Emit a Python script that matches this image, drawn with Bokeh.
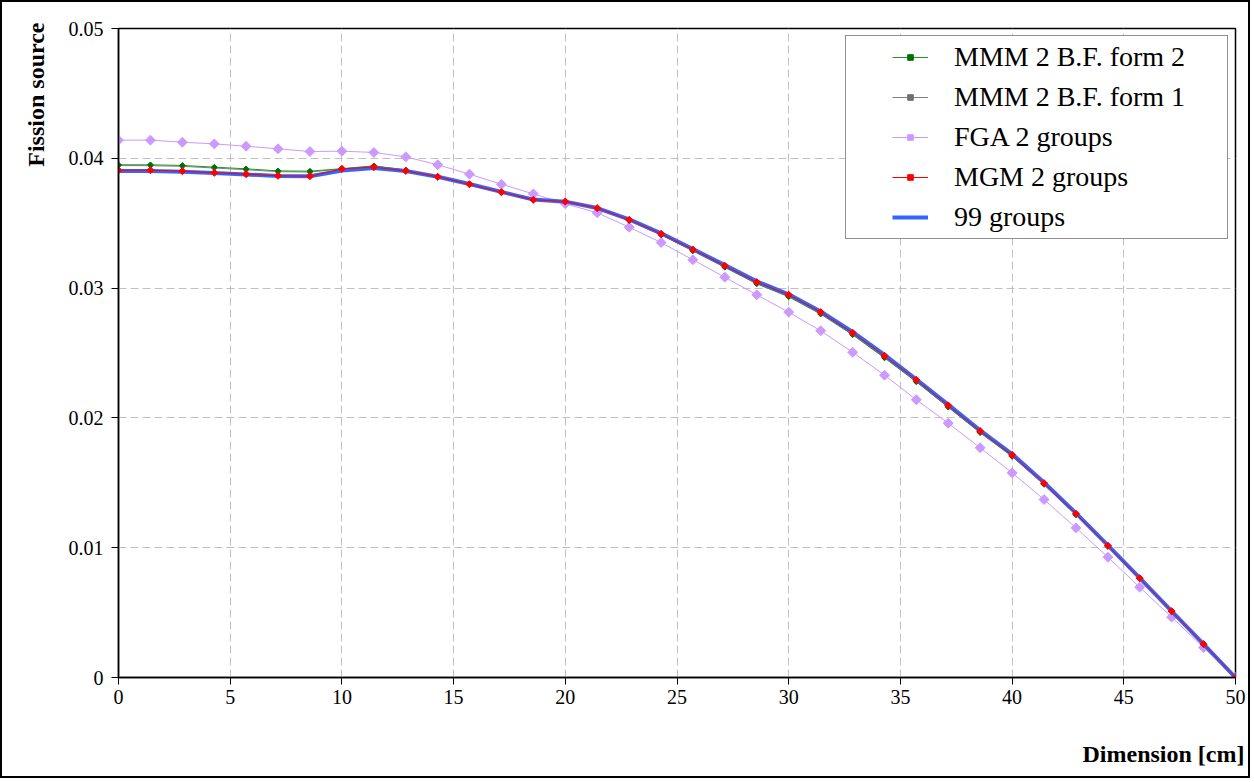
import math
from bokeh.plotting import figure
from bokeh.models import Legend, LegendItem, Title, FixedTicker
from bokeh.embed import file_html
from bokeh.resources import INLINE

# ---- data -------------------------------------------------------------
x_cm = [0, 1.43, 2.86, 4.29, 5.71, 7.14, 8.57, 10, 11.43, 12.86, 14.29, 15.71,
        17.14, 18.57, 20, 21.43, 22.86, 24.29, 25.71, 27.14, 28.57, 30, 31.43,
        32.86, 34.29, 35.71, 37.14, 38.57, 40, 41.43, 42.86, 44.29, 45.71,
        47.14, 48.57, 50]

mmm_form2 = [0.0395, 0.0395, 0.03945, 0.03932, 0.03919, 0.03903, 0.03901, 0.0392,
             0.03942, 0.0391, 0.0386, 0.03802, 0.0374, 0.0368, 0.03665, 0.03613,
             0.0352, 0.0341, 0.03287, 0.0316, 0.03033, 0.02933, 0.028, 0.0264,
             0.02462, 0.02278, 0.02082, 0.01886, 0.01703, 0.01487, 0.01253,
             0.0101, 0.00762, 0.00509, 0.00256, 0.0]

mmm_form1 = [0.03944, 0.03943, 0.03938, 0.03925, 0.03912, 0.03897, 0.03894, 0.03918,
             0.03938, 0.03908, 0.03858, 0.03801, 0.0374, 0.0368, 0.03665, 0.03614,
             0.03522, 0.03412, 0.0329, 0.03163, 0.03036, 0.02937, 0.02804, 0.02644,
             0.02466, 0.02282, 0.02086, 0.0189, 0.01707, 0.0149, 0.01256, 0.01012,
             0.00763, 0.0051, 0.00256, 0.0]

fga_2g = [0.0414, 0.0414, 0.04124, 0.04111, 0.04093, 0.04073, 0.04052, 0.04055,
          0.04045, 0.04011, 0.0395, 0.03878, 0.038, 0.03726, 0.0365, 0.0358,
          0.03469, 0.03351, 0.03218, 0.03084, 0.02948, 0.02815, 0.02671, 0.02506,
          0.02329, 0.0214, 0.01959, 0.0177, 0.01577, 0.01371, 0.01153, 0.00927,
          0.00696, 0.00465, 0.00231, 0.0]

mgm_2g = [0.03908, 0.03908, 0.03901, 0.03888, 0.03878, 0.03865, 0.03862, 0.03919,
          0.03932, 0.03903, 0.03857, 0.038, 0.03739, 0.0368, 0.03667, 0.03616,
          0.03526, 0.03418, 0.03297, 0.03172, 0.03046, 0.02948, 0.02815, 0.02656,
          0.02478, 0.02293, 0.02096, 0.01898, 0.01715, 0.01497, 0.01261, 0.01015,
          0.00765, 0.00511, 0.00257, 0.0]

ref_99g = [0.03903, 0.03902, 0.03897, 0.03886, 0.03876, 0.03863, 0.03862, 0.03905,
           0.03925, 0.03902, 0.03858, 0.03802, 0.03741, 0.03682, 0.03666, 0.03617,
           0.0353, 0.03422, 0.03301, 0.03177, 0.03052, 0.02952, 0.0282, 0.02662,
           0.02485, 0.02298, 0.02102, 0.01905, 0.01722, 0.01502, 0.01266, 0.01018,
           0.00767, 0.00512, 0.00257, 0.0]

series_names = ["MMM 2 B.F. form 2", "MMM 2 B.F. form 1", "FGA 2 groups",
                "MGM 2 groups", "99 groups"]

xtick_values = [0, 5, 10, 15, 20, 25, 30, 35, 40, 45, 50]
xtick_labels = ["0", "5", "10", "15", "20", "25", "30", "35", "40", "45", "50"]
ytick_values = [0, 0.01, 0.02, 0.03, 0.04, 0.05]
ytick_labels = ["0", "0.01", "0.02", "0.03", "0.04", "0.05"]

x_title = "Dimension [cm]"
y_title = "Fission source"

# ---- figure -----------------------------------------------------------
FONT = "Liberation Serif"

p = figure(width=1250, height=778, output_backend="svg", toolbar_location=None,
           x_range=(0, 50), y_range=(0, 0.05),
           min_border_left=116, min_border_right=17,
           min_border_top=26, min_border_bottom=103)
p.styles = {"border": "2px solid black"}
p.background_fill_color = "white"
p.border_fill_color = "white"
p.outline_line_color = "black"
p.outline_line_width = 1.5

# axes
p.xaxis.ticker = FixedTicker(ticks=xtick_values)
p.yaxis.ticker = FixedTicker(ticks=ytick_values)
p.xaxis.major_label_overrides = {v: l for v, l in zip(xtick_values, xtick_labels)}
p.yaxis.major_label_overrides = {v: l for v, l in zip(ytick_values, ytick_labels)}
for ax in (p.xaxis, p.yaxis):
    ax.axis_line_color = "black"
    ax.axis_line_width = 1.5
    ax.major_tick_line_color = "black"
    ax.major_tick_line_width = 1
    ax.major_tick_in = 0
    ax.major_tick_out = 7
    ax.minor_tick_line_color = None
    ax.major_label_text_font = FONT
    ax.major_label_text_font_size = "20px"
    ax.major_label_text_color = "black"
p.yaxis.major_label_standoff = 8
p.xaxis.major_label_standoff = 5

# grid
p.xgrid.ticker = FixedTicker(ticks=xtick_values)
p.ygrid.ticker = FixedTicker(ticks=ytick_values)
for g in (p.xgrid, p.ygrid):
    g.grid_line_color = "#c0c0c0"
    g.grid_line_dash = "8 4"
    g.grid_line_width = 1

# ---- series -----------------------------------------------------------
DIAMOND = math.pi / 4

fga_l = p.line(x_cm, fga_2g, line_color="#cc99ff", line_width=1)
fga_m = p.scatter(x_cm, fga_2g, marker="square", angle=DIAMOND, size=7,
                  fill_color="#cc99ff", line_color="#cc99ff")

g1_l = p.line(x_cm, mmm_form1, line_color="#808080", line_width=1)
g1_m = p.scatter(x_cm, mmm_form1, marker="square", angle=DIAMOND, size=4,
                 fill_color="#707070", line_color="#707070")

g2_l = p.line(x_cm, mmm_form2, line_color="#1e9a1e", line_width=1)
g2_m = p.scatter(x_cm, mmm_form2, marker="square", angle=DIAMOND, size=4,
                 fill_color="#007000", line_color="#007000")

b_l = p.line(x_cm, ref_99g, line_color="#3366ff", line_width=4)

r_l = p.line(x_cm, mgm_2g, line_color="#ff0000", line_width=1)
r_m = p.scatter(x_cm, mgm_2g, marker="square", angle=DIAMOND, size=5,
                fill_color="#ff0000", line_color="#ff0000")

items = [
    LegendItem(label=series_names[0], renderers=[g2_l, g2_m]),
    LegendItem(label=series_names[1], renderers=[g1_l, g1_m]),
    LegendItem(label=series_names[2], renderers=[fga_l, fga_m]),
    LegendItem(label=series_names[3], renderers=[r_l, r_m]),
    LegendItem(label=series_names[4], renderers=[b_l]),
]
legend = Legend(items=items, location="top_right", margin=7, padding=5,
                spacing=8, glyph_width=36, glyph_height=14, label_height=32,
                label_width=268, label_standoff=26,
                label_text_font=FONT, label_text_font_size="28px",
                label_text_color="black",
                title=" ", title_location="left", title_text_font_size="10px",
                title_standoff=30,
                border_line_color="#222222", border_line_width=1,
                background_fill_color="white", background_fill_alpha=1.0)
p.add_layout(legend)

# ---- axis titles ------------------------------------------------------
p.add_layout(Title(text=y_title, align="right", offset=-6, standoff=34,
                   text_font=FONT, text_font_style="bold",
                   text_font_size="24px", text_color="black"), "left")
# a blank first line pushes the x title down to the bottom-right corner
p.add_layout(Title(text="\u00a0\n" + x_title, align="right", offset=-9,
                   standoff=16, text_line_height=0.95,
                   text_font=FONT, text_font_style="bold",
                   text_font_size="24px", text_color="black"), "below")

open("out.html", "w").write(file_html(p, INLINE))
